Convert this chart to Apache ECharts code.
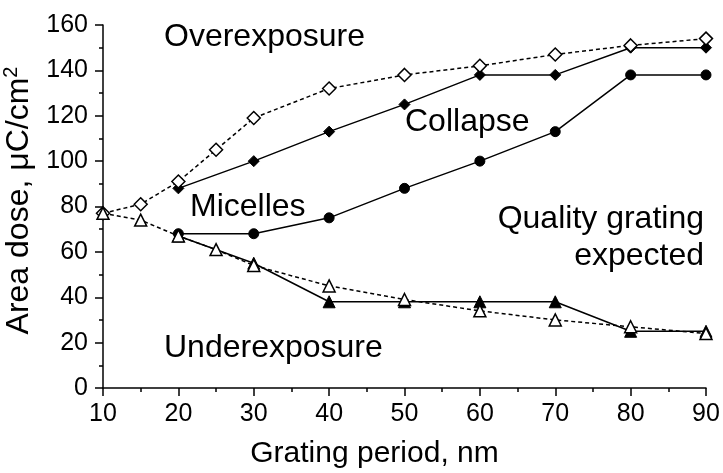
<!DOCTYPE html>
<html>
<head>
<meta charset="utf-8">
<script src="https://cdn.jsdelivr.net/npm/echarts@6/dist/echarts.min.js"></script>
<style>
html,body{margin:0;padding:0;background:#fff;}
#c{width:723px;height:473px;}
</style>
</head>
<body>
<div id="c"></div>
<script>
// Data
const overX = [10, 15, 20, 25, 30, 40, 50, 60, 70, 80, 90];
const overY = [77, 81, 91, 105, 119, 132, 138, 142, 147, 151, 154];
const collapseX = [20, 30, 40, 50, 60, 70, 80, 90];
const collapseY = [88, 100, 113, 125, 138, 138, 150, 150];
const micellesX = [20, 30, 40, 50, 60, 70, 80, 90];
const micellesY = [68, 68, 75, 88, 100, 113, 138, 138];
const underSolidX = [20, 30, 40, 50, 60, 70, 80, 90];
const underSolidY = [67, 55, 38, 38, 38, 38, 25, 25];
const underX = [10, 15, 20, 25, 30, 40, 50, 60, 70, 80, 90];
const underY = [77, 74, 67, 61, 54, 45, 39, 34, 30, 27, 24];
const xTicks = [10, 20, 30, 40, 50, 60, 70, 80, 90];
const yTicks = [0, 20, 40, 60, 80, 100, 120, 140, 160];

const zip = (xs, ys) => xs.map((x, i) => [x, ys[i]]);
const FONT = '"Liberation Sans", Arial, Helvetica, sans-serif';

const chart = echarts.init(document.getElementById('c'), null, {renderer: 'canvas'});

function solid(name, xs, ys, symbol, size) {
  return {
    name, type: 'line', data: zip(xs, ys), symbol, symbolSize: size,
    lineStyle: {color: '#000', width: 1.5, type: 'solid'},
    itemStyle: {color: '#000', borderColor: '#000', borderWidth: 1},
    z: 3, animation: false
  };
}
function dashed(name, xs, ys, symbol, size) {
  return {
    name, type: 'line', data: zip(xs, ys), symbol, symbolSize: size,
    lineStyle: {color: '#000', width: 1.5, type: [4, 3]},
    itemStyle: {color: '#fff', borderColor: '#000', borderWidth: 1.5},
    z: 4, animation: false
  };
}

const annot = (text, x, y, align) => ({
  type: 'text', x, y, z: 10,
  style: {text, fill: '#000', font: '32px ' + FONT, align: align || 'left', verticalAlign: 'middle'}
});

chart.setOption({
  backgroundColor: '#fff',
  animation: false,
  grid: {left: 103, right: 17, top: 25, bottom: 85, containLabel: false, outerBoundsMode: 'none'},
  xAxis: {
    type: 'value', min: xTicks[0], max: xTicks[xTicks.length - 1], interval: 10,
    name: 'Grating period, nm', nameLocation: 'middle', nameGap: 51,
    nameTextStyle: {color: '#000', fontSize: 30, fontFamily: FONT, padding: [0, 60, 0, 0]},
    axisLine: {show: true, onZero: false, lineStyle: {color: '#000', width: 1.5}},
    axisTick: {show: true, length: 8, lineStyle: {color: '#000', width: 1.5}},
    minorTick: {show: true, splitNumber: 2, length: 4, lineStyle: {color: '#000', width: 1.5}},
    axisLabel: {color: '#000', fontSize: 25, fontFamily: FONT, margin: 14},
    splitLine: {show: false}
  },
  yAxis: {
    type: 'value', min: yTicks[0], max: yTicks[yTicks.length - 1], interval: 20,
    name: '{a|Area dose, μC/cm}{s|2}', nameLocation: 'middle', nameGap: 57,
    nameTextStyle: {
      color: '#000', fontSize: 32, fontFamily: FONT, padding: [0, 0, 0, 12],
      rich: {
        a: {fontSize: 32, fontFamily: FONT, color: '#000', lineHeight: 36},
        s: {fontSize: 20, fontFamily: FONT, color: '#000', verticalAlign: 'top', lineHeight: 36}
      }
    },
    axisLine: {show: true, lineStyle: {color: '#000', width: 1.5}},
    axisTick: {show: true, length: 8, lineStyle: {color: '#000', width: 1.5}},
    minorTick: {show: true, splitNumber: 2, length: 4, lineStyle: {color: '#000', width: 1.5}},
    axisLabel: {color: '#000', fontSize: 25, fontFamily: FONT, margin: 15},
    splitLine: {show: false}
  },
  series: [
    solid('Collapse', collapseX, collapseY, 'diamond', 11),
    solid('Micelles', micellesX, micellesY, 'circle', 10),
    solid('Underexposure solid', underSolidX, underSolidY, 'triangle', 12),
    dashed('Overexposure', overX, overY, 'diamond', 13),
    dashed('Underexposure', underX, underY, 'triangle', 12)
  ],
  graphic: [
    annot('Overexposure', 164, 37),
    annot('Collapse', 405, 122),
    annot('Micelles', 190, 207),
    annot('Quality grating', 704, 219, 'right'),
    annot('expected', 704, 256, 'right'),
    annot('Underexposure', 164, 348)
  ]
});
</script>
</body>
</html>
